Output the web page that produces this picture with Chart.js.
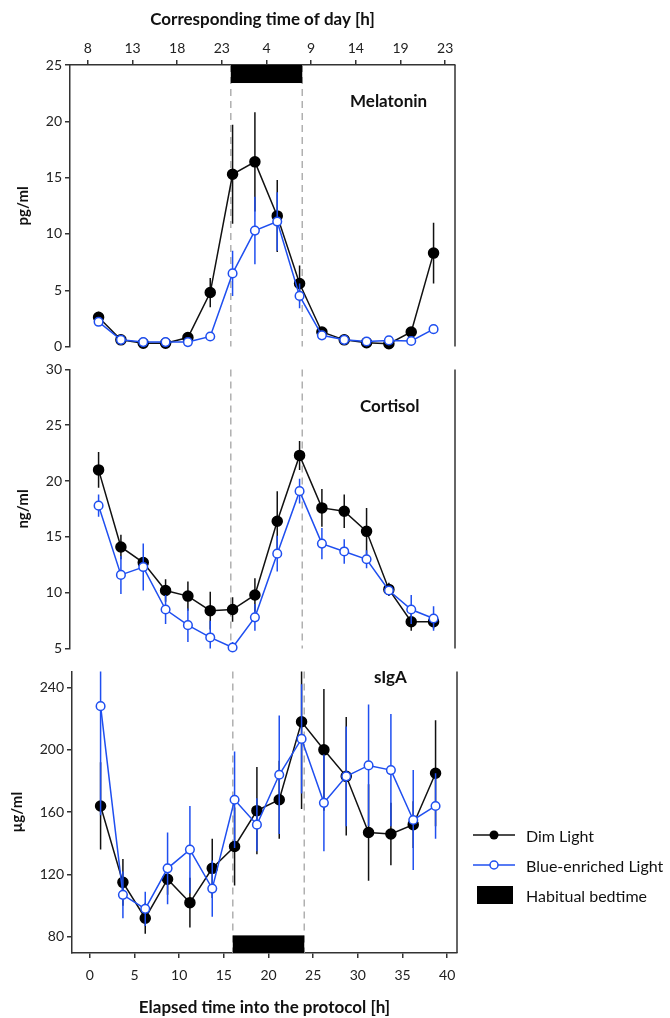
<!DOCTYPE html>
<html lang="en">
<head>
<meta charset="UTF-8">
<title>Melatonin, Cortisol and sIgA</title>
<script src="https://cdn.jsdelivr.net/npm/chart.js@4.4.0/dist/chart.umd.min.js"></script>
<style>
  body { margin: 0; background: #fff; font-family: Lato, sans-serif; }
  #wrap { position: relative; width: 670px; height: 1018px; overflow: hidden; }
  canvas { position: absolute; left: 0; }
  .lbl { position: absolute; font-weight: bold; font-size: 17px; line-height: 20px; color: #111; }
  .leg { position: absolute; left: 470px; font-size: 16px; color: #111; }
  .leg div { height: 30px; display: flex; align-items: center; }
  .leg svg { margin-right: 10px; }
</style>
</head>
<body>
<div id="wrap">
  <canvas id="mel" width="670" height="358" style="top:0"></canvas>
  <canvas id="cort" width="670" height="302" style="top:358px"></canvas>
  <canvas id="siga" width="670" height="358" style="top:660px"></canvas>

  <div class="lbl" style="left:350px; top:91px">Melatonin</div>
  <div class="lbl" style="left:360px; top:396px">Cortisol</div>
  <div class="lbl" style="left:374px; top:667px">sIgA</div>

  <div class="leg" style="top:820px">
    <div><svg width="46" height="12"><line x1="3" y1="6" x2="45" y2="6" stroke="#111" stroke-width="1.5"/><circle cx="24" cy="6" r="4.5" fill="#000"/></svg>Dim Light</div>
    <div><svg width="46" height="12"><line x1="3" y1="6" x2="45" y2="6" stroke="#1f4ff0" stroke-width="1.5"/><circle cx="24" cy="6" r="4" fill="#fff" stroke="#1f4ff0" stroke-width="1.5"/></svg>Blue-enriched Light</div>
    <div><svg width="46" height="18"><rect x="7" y="0" width="36" height="18" fill="#000"/></svg>Habitual bedtime</div>
  </div>
</div>

<script>
// sampling times (elapsed hours into the protocol)
const elapsed = [1.2, 3.7, 6.2, 8.7, 11.2, 13.7, 16.2, 18.7, 21.2, 23.7, 26.2, 28.7, 31.2, 33.7, 36.2, 38.7];
const xTicks = [0, 5, 10, 15, 20, 25, 30, 35, 40];
const clockLabels = ['8', '13', '18', '23', '4', '9', '14', '19', '23'];
const bedtime = [16, 24];

// melatonin pg/ml
const melTicks = [0, 5, 10, 15, 20, 25];
const melDim = [2.6, 0.6, 0.3, 0.3, 0.8, 4.8, 15.3, 16.4, 11.6, 5.6, 1.3, 0.6, 0.35, 0.25, 1.3, 8.3];
const melDimErr = [0.5, 0.2, 0.2, 0.2, 0.3, 1.3, 4.4, 4.4, 3.2, 1.6, 0.4, 0.2, 0.2, 0.2, 0.4, 2.7];
const melBlue = [2.2, 0.6, 0.4, 0.4, 0.4, 0.9, 6.5, 10.3, 11.1, 4.5, 1.0, 0.6, 0.45, 0.55, 0.5, 1.55];
const melBlueErr = [0.3, 0.2, 0.2, 0.2, 0.2, 0.2, 2.0, 3.0, 2.6, 1.1, 0.4, 0.2, 0.2, 0.2, 0.2, 0.4];

// cortisol ng/ml
const cortTicks = [5, 10, 15, 20, 25, 30];
const cortDim = [21.0, 14.1, 12.7, 10.2, 9.7, 8.4, 8.5, 9.8, 16.4, 22.3, 17.6, 17.3, 15.5, 10.3, 7.4, 7.4];
const cortDimErr = [1.6, 1.1, 0.5, 1.0, 1.3, 1.7, 1.1, 1.5, 2.7, 1.3, 1.7, 1.5, 2.1, 0.6, 0.8, 0.6];
const cortBlue = [17.8, 11.6, 12.3, 8.5, 7.1, 6.0, 5.1, 7.8, 13.5, 19.1, 14.4, 13.7, 13.0, 10.2, 8.5, 7.7];
const cortBlueErr = [1.0, 1.7, 2.1, 1.3, 1.5, 1.5, 0.5, 1.2, 1.6, 1.1, 1.4, 1.1, 0.8, 0.4, 1.3, 1.1];

// sIgA µg/ml
const sigaTicks = [80, 120, 160, 200, 240];
const sigaDim = [164, 115, 92, 117, 102, 124, 138, 161, 168, 218, 200, 183, 147, 146, 152, 185];
const sigaDimErr = [28, 15, 10, 10, 16, 19, 25, 28, 25, 56, 39, 38, 31, 20, 15, 34];
const sigaBlue = [228, 107, 98, 124, 136, 111, 168, 152, 184, 207, 166, 183, 190, 187, 155, 164];
const sigaBlueErr = [70, 15, 11, 23, 28, 18, 31, 17, 38, 35, 31, 32, 39, 36, 32, 21];

const BLACK = '#111';
const BLUE = '#1f4ff0';
const AXIS = '#333';

Chart.defaults.font.family = 'Lato, sans-serif';
Chart.defaults.font.size = 13;
Chart.defaults.color = '#222';

// dashed bedtime lines, bedtime block, right frame line and error bars
const extras = {
  id: 'extras',
  beforeDatasetsDraw(chart, args, opts) {
    const { ctx, chartArea: a, scales: { x, y } } = chart;
    ctx.save();
    ctx.strokeStyle = '#b0b0b0';
    ctx.lineWidth = 1.5;
    ctx.setLineDash([7, 5]);
    bedtime.forEach(v => {
      const px = x.getPixelForValue(v);
      ctx.beginPath();
      ctx.moveTo(px, a.top);
      ctx.lineTo(px, a.bottom);
      ctx.stroke();
    });
    ctx.setLineDash([]);
    if (opts.bed) {
      const px0 = x.getPixelForValue(bedtime[0]);
      const px1 = x.getPixelForValue(bedtime[1]);
      const py0 = y.getPixelForValue(opts.bed[0]);
      const py1 = y.getPixelForValue(opts.bed[1]);
      ctx.fillStyle = '#000';
      ctx.fillRect(px0, Math.min(py0, py1), px1 - px0, Math.abs(py1 - py0));
    }
    ctx.strokeStyle = AXIS;
    ctx.beginPath();
    ctx.moveTo(a.right, a.top);
    ctx.lineTo(a.right, a.bottom);
    ctx.stroke();
    ctx.restore();
  },
  beforeDatasetDraw(chart, args) {
    const ds = chart.data.datasets[args.index];
    if (!ds.errors) return;
    const { ctx, chartArea: a, scales: { x, y } } = chart;
    ctx.save();
    ctx.beginPath();
    ctx.rect(a.left, a.top, a.right - a.left, a.bottom - a.top);
    ctx.clip();
    ctx.strokeStyle = ds.borderColor;
    ctx.lineWidth = 1.5;
    ds.data.forEach((p, i) => {
      const px = x.getPixelForValue(p.x);
      ctx.beginPath();
      ctx.moveTo(px, y.getPixelForValue(p.y - ds.errors[i]));
      ctx.lineTo(px, y.getPixelForValue(p.y + ds.errors[i]));
      ctx.stroke();
    });
    ctx.restore();
  }
};

function series(vals, errs, blue) {
  return {
    data: elapsed.map((t, i) => ({ x: t, y: vals[i] })),
    errors: errs,
    borderColor: blue ? BLUE : BLACK,
    borderWidth: 1.5,
    pointRadius: blue ? 4.3 : 5,
    pointBorderWidth: 1.5,
    pointBackgroundColor: blue ? '#fff' : '#000',
    pointBorderColor: blue ? BLUE : '#000',
    order: blue ? 1 : 2,
    clip: false
  };
}

function panel(id, p) {
  const shown = p.xPos !== null;
  const xAxis = {
    type: 'linear',
    min: -2,
    max: 41.1,
    display: shown,
    position: p.xPos || 'bottom',
    afterBuildTicks: s => { s.ticks = xTicks.map(v => ({ value: v })); },
    afterFit: s => { s.height = shown ? 65 : 0; },
    border: { color: AXIS, width: 1.5 },
    grid: { drawOnChartArea: false, color: AXIS, lineWidth: 1.5, tickLength: 5 },
    ticks: {
      padding: p.xPos === 'top' ? 3 : 9,
      font: { size: 14 },
      callback: v => p.xPos === 'top' ? clockLabels[xTicks.indexOf(v)] : v
    },
    title: {
      display: shown,
      text: p.xTitle,
      font: { size: 17, weight: 'bold' },
      color: '#111',
      padding: p.xPos === 'top' ? { top: 9, bottom: 0 } : { top: 0, bottom: 0 }
    }
  };
  return new Chart(document.getElementById(id), {
    type: 'line',
    data: {
      datasets: [series(p.dim, p.dimErr, false), series(p.blue, p.blueErr, true)]
    },
    options: {
      responsive: false,
      animation: false,
      layout: { padding: p.pad },
      plugins: { legend: { display: false }, tooltip: { enabled: false }, extras: { bed: p.bed } },
      scales: {
        x: xAxis,
        y: {
          min: p.yMin,
          max: p.yMax,
          afterBuildTicks: s => { s.ticks = p.yTicks.map(v => ({ value: v })); },
          afterFit: s => { s.width = p.yWidth; },
          border: { color: AXIS, width: 1.5 },
          grid: { drawOnChartArea: false, color: AXIS, lineWidth: 1.5, tickLength: 5 },
          ticks: { padding: 3, font: { size: 14 } },
          title: {
            display: true,
            text: p.yTitle,
            font: { size: 15, weight: 'bold' },
            color: '#111',
            padding: { top: p.yTitleX - 9, bottom: 0 }
          }
        }
      }
    },
    plugins: [extras]
  });
}

panel('mel', {
  dim: melDim, dimErr: melDimErr, blue: melBlue, blueErr: melBlueErr,
  yMin: 0, yMax: 25, yTicks: melTicks, yTitle: 'pg/ml', yTitleX: 23, yWidth: 70,
  xPos: 'top', xTitle: 'Corresponding time of day [h]',
  pad: { top: 0, bottom: 8, left: 0, right: 215 },
  bed: [23.4, 25]
});

panel('cort', {
  dim: cortDim, dimErr: cortDimErr, blue: cortBlue, blueErr: cortBlueErr,
  yMin: 5, yMax: 30, yTicks: cortTicks, yTitle: 'ng/ml', yTitleX: 23, yWidth: 70,
  xPos: null, xTitle: '',
  pad: { top: 7, bottom: 8, left: 0, right: 215 },
  bed: null
});

panel('siga', {
  dim: sigaDim, dimErr: sigaDimErr, blue: sigaBlue, blueErr: sigaBlueErr,
  yMin: 69.7, yMax: 250.3, yTicks: sigaTicks, yTitle: 'µg/ml', yTitleX: 17, yWidth: 72,
  xPos: 'bottom', xTitle: 'Elapsed time into the protocol [h]',
  pad: { top: 7, bottom: 0, left: 0, right: 213 },
  bed: [69.7, 81]
});
</script>
</body>
</html>
